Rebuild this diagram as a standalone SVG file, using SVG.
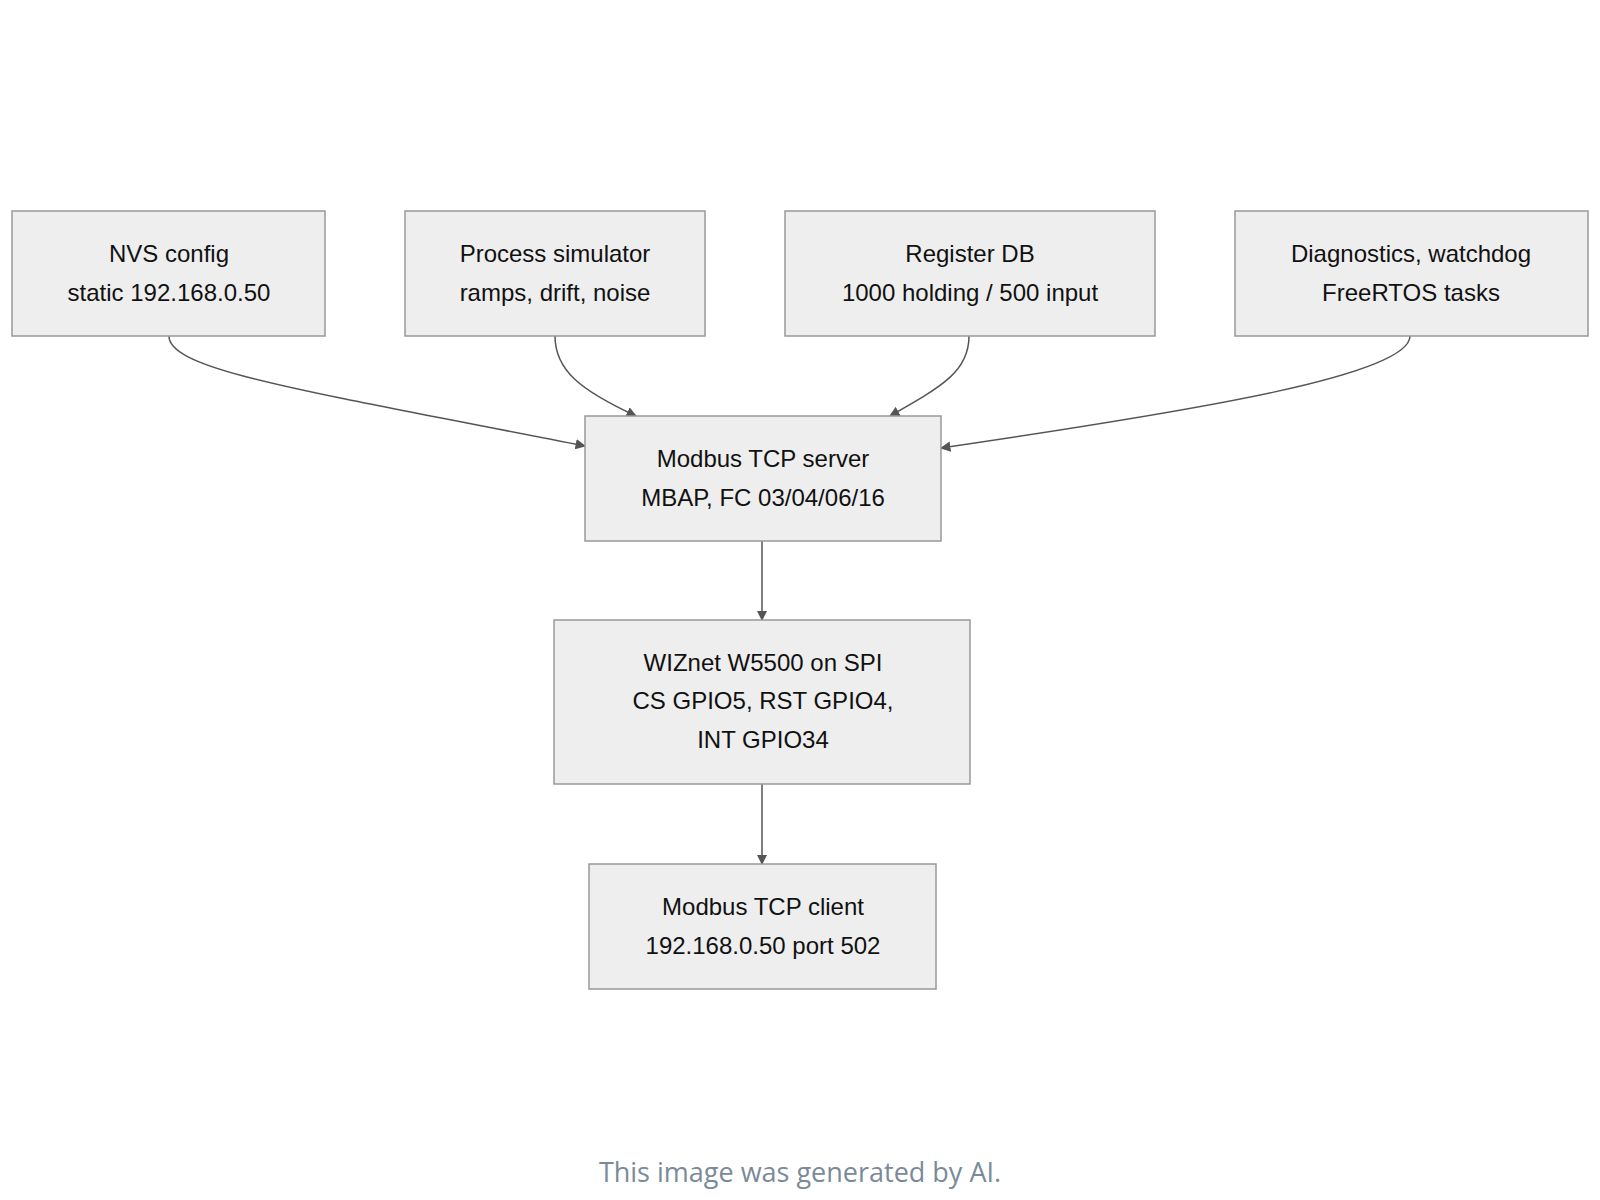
<svg xmlns="http://www.w3.org/2000/svg" width="1600" height="1200" viewBox="0 0 1600 1200">
<style>
.n rect{fill:#eeeeee;stroke:#999;stroke-width:1.5}
.n text{font-family:"Liberation Sans",Arial,sans-serif;font-size:24px;fill:#111;text-anchor:middle}
.e path{fill:none;stroke:#555;stroke-width:1.5;marker-end:url(#a)}
</style>
<defs><marker id="a" viewBox="0 0 10 10" refX="9" refY="5" markerWidth="7" markerHeight="7" orient="auto"><path d="M0,0L10,5L0,10z" fill="#555"/></marker></defs>
<rect width="1600" height="1200" fill="#fff"/>
<g class="e">
<path d="M169,336 C169,370 300,390 585,446"/>
<path d="M555,336 C555,370 580,390 636,416"/>
<path d="M969,336 C969,370 945,385 890,416"/>
<path d="M1410,336 C1410,375 1200,410 941,448"/>
<path d="M762,541 L762,620"/>
<path d="M762,784 L762,864"/>
</g>
<g id="nvs" class="n"><rect x="12" y="211" width="313" height="125"/><text x="169" y="262">NVS config</text><text x="169" y="301">static 192.168.0.50</text></g>
<g id="sim" class="n"><rect x="405" y="211" width="300" height="125"/><text x="555" y="262">Process simulator</text><text x="555" y="301">ramps, drift, noise</text></g>
<g id="reg" class="n"><rect x="785" y="211" width="370" height="125"/><text x="970" y="262">Register DB</text><text x="970" y="301">1000 holding / 500 input</text></g>
<g id="diag" class="n"><rect x="1235" y="211" width="353" height="125"/><text x="1411" y="262">Diagnostics, watchdog</text><text x="1411" y="301">FreeRTOS tasks</text></g>
<g id="server" class="n"><rect x="585" y="416" width="356" height="125"/><text x="763" y="467">Modbus TCP server</text><text x="763" y="506">MBAP, FC 03/04/06/16</text></g>
<g id="wiz" class="n"><rect x="554" y="620" width="416" height="164"/><text x="763" y="671">WIZnet W5500 on SPI</text><text x="763" y="709">CS GPIO5, RST GPIO4,</text><text x="763" y="748">INT GPIO34</text></g>
<g id="client" class="n"><rect x="589" y="864" width="347" height="125"/><text x="763" y="915">Modbus TCP client</text><text x="763" y="954">192.168.0.50 port 502</text></g>
<text x="800" y="1182" font-family="'Open Sans','Noto Sans',sans-serif" font-size="27" fill="#7a8a99" text-anchor="middle">This image was generated by AI.</text>
</svg>
